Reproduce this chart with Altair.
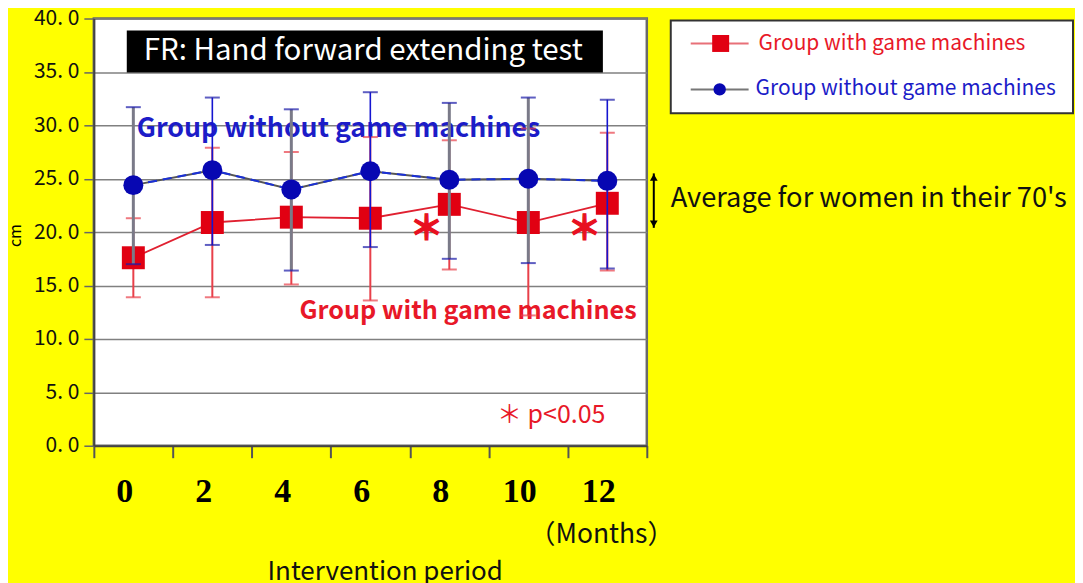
import altair as alt
import pandas as pd

# ---------------- data ----------------
months = ["0", "2", "4", "6", "8", "10", "12"]

without_mean = [24.4, 25.8, 24.0, 25.7, 24.9, 25.0, 24.8]
without_upper = [31.7, 32.6, 31.5, 33.1, 32.1, 32.6, 32.4]
without_lower = [17.0, 18.8, 16.4, 18.6, 17.5, 17.1, 16.6]

with_mean = [17.6, 20.9, 21.4, 21.3, 22.6, 20.9, 22.7]
with_upper = [21.3, 27.9, 27.5, 28.9, 28.6, 29.7, 29.3]
with_lower = [13.9, 13.9, 15.1, 13.6, 16.5, 12.2, 16.4]

significant_months = ["8", "12"]
y_ticks = [0, 5, 10, 15, 20, 25, 30, 35, 40]
women70_range = [20.4, 25.5]

series_names = ["Group with game machines", "Group without game machines"]
chart_title = "FR: Hand forward extending test"
avg_label = "Average for women in their 70's"
x_unit = "（Months）"
x_title = "Intervention period"
y_title = "cm"
sig_note = "＊ p<0.05"

blue_bar_months = ["2", "6", "12"]  # error bars drawn in blue (others grey)

# ---------------- styling ----------------
RED = "#e10012"
RED_BAR = "#e8404a"
BLUE = "#0707b2"
BLUE_TXT = "#1c1cc8"
GREY = "#7a7a88"
JP = "Noto Sans CJK JP"

df_without = pd.DataFrame({"month": months, "mean": without_mean,
                           "lo": without_lower, "hi": without_upper})
df_with = pd.DataFrame({"month": months, "mean": with_mean,
                        "lo": with_lower, "hi": with_upper})
df_sig = pd.DataFrame({"month": significant_months,
                       "mean": [with_mean[months.index(m)] for m in significant_months]})
df_avg = pd.DataFrame({"lo": [women70_range[0]], "hi": [women70_range[1]]})
one = pd.DataFrame({"k": [0]})

x_axis = alt.Axis(title=None, labelAngle=0, labelFont="Liberation Serif",
                  labelFontWeight="bold", labelFontSize=34, labelColor="#000",
                  labelPadding=17, labelOffset=-9, tickBand="extent", tickSize=12,
                  tickColor="#555", tickWidth=2, domainColor="#444",
                  domainWidth=2, grid=False)
x_scale = alt.Scale(type="band", domain=months, paddingInner=0, paddingOuter=0)

y_axis = alt.Axis(values=y_ticks,
                  labelExpr="replace(format(datum.value, '.1f'), '.', '. ')",
                  labelFont=JP, labelFontSize=21,
                  labelColor="#111", labelPadding=5, tickSize=10,
                  tickColor="#666", tickWidth=1.5, gridColor="#808080",
                  gridWidth=1.5, domainColor="#444", domainWidth=2,
                  title=y_title, titleX=-78, titleY=217, titleFont=JP,
                  titleBaseline="middle", titleAlign="center",
                  titleFontSize=16, titleFontWeight="normal", titleColor="#000")
y_scale = alt.Scale(domain=[0, 40], nice=False)


def X():
    return alt.X("month:N", scale=x_scale, axis=x_axis, sort=months)


def Y(field):
    return alt.Y(f"{field}:Q", scale=y_scale, axis=y_axis)


# ---------------- annotations inside plot ----------------
title_box = alt.Chart(one).mark_rect(color="#000").encode(
    x=alt.value(33), x2=alt.value(510), y=alt.value(12), y2=alt.value(54))
title_txt = alt.Chart(one).mark_text(
    text=chart_title, font=JP, fontSize=29.5, color="#fff",
    align="center", baseline="middle").encode(x=alt.value(270), y=alt.value(33))

txt_without = alt.Chart(one).mark_text(
    text=series_names[1], font=JP, fontSize=26.8, fontWeight="bold",
    color=BLUE_TXT, align="left", baseline="middle").encode(
    x=alt.value(43), y=alt.value(111))
txt_with = alt.Chart(one).mark_text(
    text=series_names[0], font=JP, fontSize=25.2, fontWeight="bold",
    color="#e81828", align="left", baseline="middle").encode(
    x=alt.value(206), y=alt.value(293))

# ---------------- "with game machines" series ----------------
red_rule = alt.Chart(df_with).mark_rule(color=RED_BAR, strokeWidth=2).encode(
    x=X(), y=Y("lo"), y2="hi:Q")
red_cap_lo = alt.Chart(df_with).mark_tick(color=RED_BAR, size=15, thickness=2).encode(
    x=X(), y=Y("lo"))
red_cap_hi = alt.Chart(df_with).mark_tick(color=RED_BAR, size=15, thickness=2).encode(
    x=X(), y=Y("hi"))
red_line = alt.Chart(df_with).mark_line(color="#e02030", strokeWidth=1.8).encode(
    x=X(), y=Y("mean"))
red_pts = alt.Chart(df_with).mark_point(shape="square", filled=True, opacity=1,
                                        color=RED, size=529).encode(
    x=X(), y=Y("mean"))

# ---------------- "without game machines" series ----------------
blue_test = "indexof([" + ",".join(f"'{m}'" for m in blue_bar_months) + "], datum.month) >= 0"
blue_rule = alt.Chart(df_without).mark_rule().encode(
    x=X(), y=Y("lo"), y2="hi:Q",
    color=alt.condition(blue_test, alt.value("#1515d0"), alt.value(GREY)),
    strokeWidth=alt.condition(blue_test, alt.value(1.6), alt.value(3)))
blue_cap_lo = alt.Chart(df_without).mark_tick(color="#1a1aa8", size=15, thickness=2).encode(
    x=X(), y=Y("lo"))
blue_cap_hi = alt.Chart(df_without).mark_tick(color="#1a1aa8", size=15, thickness=2).encode(
    x=X(), y=Y("hi"))
grey_line = alt.Chart(df_without).mark_line(color="#555", strokeWidth=2).encode(
    x=X(), y=Y("mean"))
blue_line = alt.Chart(df_without).mark_line(color="#1a30d8", strokeWidth=2,
                                            strokeDash=[9, 6]).encode(
    x=X(), y=Y("mean"))
blue_pts = alt.Chart(df_without).mark_point(shape="circle", filled=True, opacity=1,
                                            color=BLUE, size=400).encode(
    x=X(), y=Y("mean"))

# ---------------- significance marks ----------------
stars = alt.Chart(df_sig).mark_text(
    text="＊", font=JP, fontSize=34, fontWeight="bold", color="#e81020",
    dx=-23, baseline="middle", align="center", stroke="#e81020",
    strokeWidth=1.2).encode(
    x=X(), y=alt.value(212))
p_note = alt.Chart(one).mark_text(
    text=sig_note, font=JP, fontSize=25, color="#e81828",
    align="left", baseline="middle").encode(x=alt.value(404), y=alt.value(397))

# ---------------- outside annotations ----------------
arrow_rule = alt.Chart(df_avg).mark_rule(color="#000", strokeWidth=2).encode(
    x=alt.value(561), y=Y("lo"), y2="hi:Q")
arrow_top = alt.Chart(df_avg).mark_point(shape="triangle-up", filled=True,
                                         opacity=1, color="#000", size=60,
                                         yOffset=4).encode(
    x=alt.value(561), y=Y("hi"))
arrow_bot = alt.Chart(df_avg).mark_point(shape="triangle-down", filled=True,
                                         opacity=1, color="#000", size=60,
                                         yOffset=-4).encode(
    x=alt.value(561), y=Y("lo"))
avg_txt = alt.Chart(one).mark_text(
    text=avg_label, font=JP, fontSize=27.3, color="#111",
    align="left", baseline="middle").encode(x=alt.value(578), y=alt.value(181))

months_txt = alt.Chart(one).mark_text(
    text=x_unit, font=JP, fontSize=26.5, color="#111",
    align="left", baseline="middle").encode(x=alt.value(436), y=alt.value(517))
xtitle_txt = alt.Chart(one).mark_text(
    text=x_title, font=JP, fontSize=26, color="#111",
    align="left", baseline="middle").encode(x=alt.value(174), y=alt.value(555))

# ---------------- legend (drawn) ----------------
leg_box = alt.Chart(one).mark_rect(fill="#fff", stroke="#333", strokeWidth=2).encode(
    x=alt.value(578), x2=alt.value(981), y=alt.value(2), y2=alt.value(95))
leg_l1 = alt.Chart(one).mark_rule(color="#e87078", strokeWidth=2).encode(
    x=alt.value(598), x2=alt.value(656), y=alt.value(25))
leg_p1 = alt.Chart(one).mark_point(shape="square", filled=True, opacity=1,
                                   color=RED, size=289).encode(
    x=alt.value(628), y=alt.value(25))
leg_t1 = alt.Chart(one).mark_text(
    text=series_names[0], font=JP, fontSize=21, color="#e81828",
    align="left", baseline="middle").encode(x=alt.value(666), y=alt.value(26))
leg_l2 = alt.Chart(one).mark_rule(color="#777", strokeWidth=2).encode(
    x=alt.value(598), x2=alt.value(656), y=alt.value(71))
leg_p2 = alt.Chart(one).mark_point(shape="circle", filled=True, opacity=1,
                                   color=BLUE, size=155).encode(
    x=alt.value(627), y=alt.value(71))
leg_t2 = alt.Chart(one).mark_text(
    text=series_names[1], font=JP, fontSize=21, color=BLUE_TXT,
    align="left", baseline="middle").encode(x=alt.value(663), y=alt.value(71))

chart = alt.layer(
    red_rule, title_box, title_txt, txt_without, txt_with,
    red_cap_lo, red_cap_hi, red_line, red_pts,
    blue_rule, blue_cap_lo, blue_cap_hi, grey_line, blue_line, blue_pts,
    stars, p_note, arrow_rule, arrow_top, arrow_bot, avg_txt,
    months_txt, xtitle_txt,
    leg_box, leg_l1, leg_p1, leg_t1, leg_l2, leg_p2, leg_t2,
).properties(
    width=554, height=428,
    autosize=alt.AutoSizeParams(type="none"),
    padding={"left": 86, "top": 10, "right": 429, "bottom": 137},
    background="#ffff00",
).configure_view(
    fill="#ffffff", stroke="#6a6a6a", strokeWidth=2.5
)

chart.save("out.html", embed_options={"renderer": "svg", "actions": False})
